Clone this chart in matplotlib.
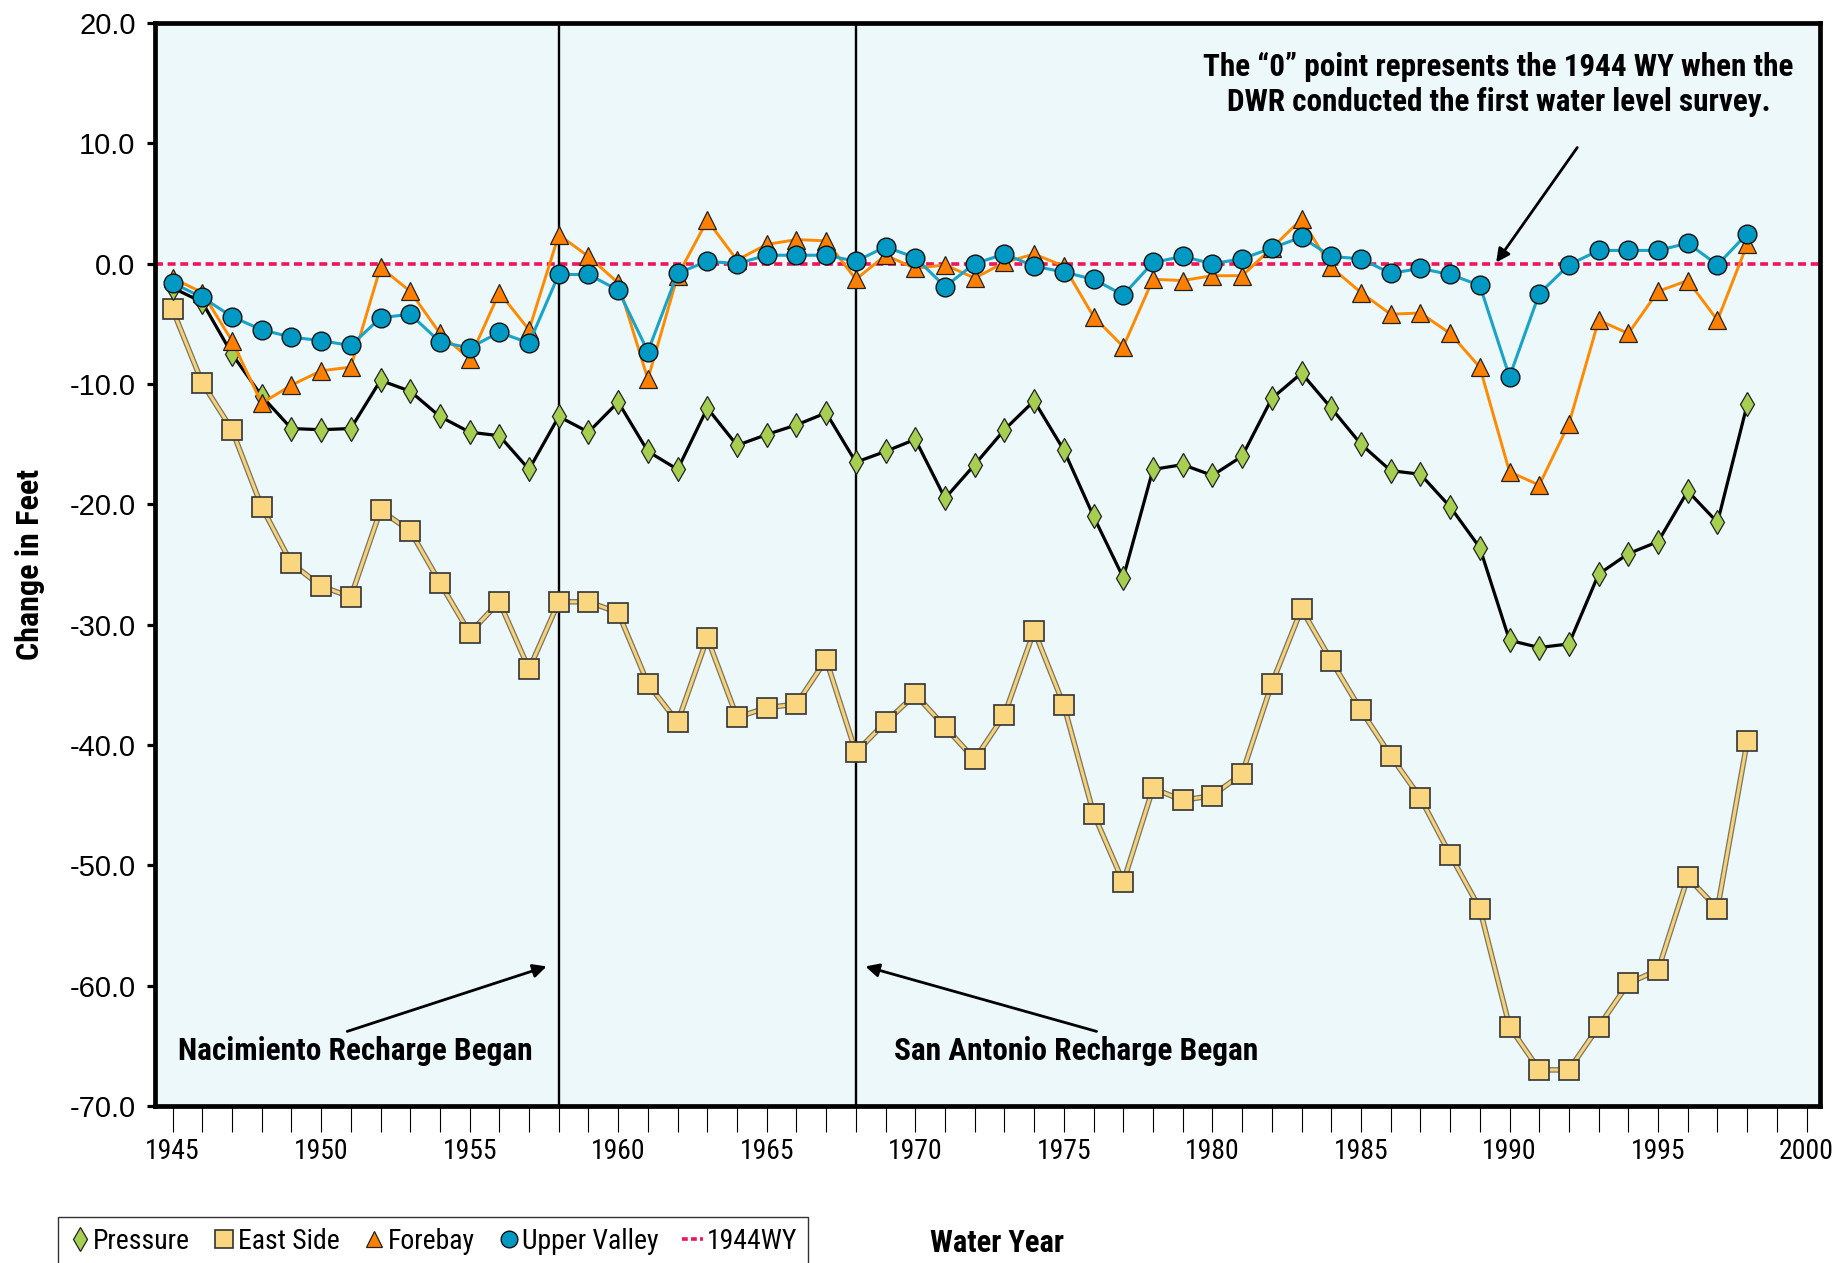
import numpy as np
import matplotlib
matplotlib.use("Agg")
import matplotlib.pyplot as plt
from matplotlib.lines import Line2D
from matplotlib import patheffects as pe

years = list(range(1945, 1999))

pressure = [-2.0, -3.2, -7.5, -11.0, -13.7, -13.8, -13.7, -9.7, -10.6, -12.7,
            -14.0, -14.3, -17.1, -12.7, -14.0, -11.5, -15.6, -17.1, -12.0, -15.1,
            -14.2, -13.4, -12.4, -16.5, -15.6, -14.6, -19.5, -16.7, -13.8, -11.4,
            -15.5, -21.0, -26.1, -17.1, -16.7, -17.6, -16.0, -11.2, -9.1, -12.0,
            -15.0, -17.2, -17.5, -20.2, -23.6, -31.3, -31.9, -31.6, -25.8, -24.1,
            -23.1, -18.9, -21.5, -11.7]

east_side = [-3.8, -9.9, -13.8, -20.2, -24.9, -26.8, -27.7, -20.5, -22.2, -26.5,
             -30.7, -28.1, -33.7, -28.1, -28.1, -29.0, -34.9, -38.1, -31.1, -37.7,
             -36.9, -36.6, -32.9, -40.6, -38.1, -35.8, -38.5, -41.2, -37.5, -30.5,
             -36.7, -45.7, -51.4, -43.6, -44.6, -44.2, -42.4, -34.9, -28.7, -33.0,
             -37.1, -40.9, -44.4, -49.1, -53.6, -63.4, -67.0, -67.0, -63.4, -59.8,
             -58.7, -51.0, -53.6, -39.7]

forebay = [-1.2, -2.4, -6.4, -11.6, -10.1, -8.9, -8.6, -0.3, -2.3, -5.8,
           -7.9, -2.4, -5.5, 2.4, 0.6, -1.6, -9.6, -1.0, 3.6, 0.3,
           1.6, 2.0, 1.9, -1.3, 0.7, -0.4, -0.1, -1.2, 0.1, 0.8,
           -0.2, -4.4, -6.9, -1.3, -1.4, -1.0, -1.0, 1.3, 3.7, -0.3,
           -2.4, -4.2, -4.1, -5.8, -8.6, -17.3, -18.4, -13.3, -4.7, -5.8,
           -2.3, -1.4, -4.7, 1.6]

upper_valley = [-1.6, -2.8, -4.4, -5.5, -6.1, -6.4, -6.8, -4.5, -4.2, -6.5,
                -7.0, -5.7, -6.6, -0.9, -0.9, -2.2, -7.3, -0.8, 0.2, 0.0,
                0.7, 0.7, 0.7, 0.2, 1.4, 0.5, -1.9, 0.0, 0.8, -0.2,
                -0.7, -1.3, -2.6, 0.1, 0.6, 0.0, 0.4, 1.3, 2.2, 0.6,
                0.4, -0.8, -0.4, -0.9, -1.8, -9.4, -2.5, -0.1, 1.1, 1.1,
                1.1, 1.7, -0.1, 2.5]

recharge_years = [1958, 1968]

# condensed face like the original's Arial Narrow, falls back to DejaVu Sans Condensed
NARROW = ["Roboto Condensed", "PT Sans Narrow", "DejaVu Sans"]
REGULAR = ["Liberation Sans", "DejaVu Sans"]
COND = dict(family=NARROW, stretch="condensed")

fig = plt.figure(figsize=(18.39, 12.63), dpi=100)
ax = fig.add_axes([155 / 1839, 1 - 1106 / 1263, (1820 - 155) / 1839, (1106 - 23) / 1263])
ax.set_facecolor("#EDF8FA")

# reference lines
ax.axhline(0, color="#F0145A", lw=2.6, ls=(0, (2.2, 1.3)), zorder=2)
for yr in recharge_years:
    ax.axvline(yr, color="black", lw=1.7, zorder=2.5)

# East Side: tan line with grey outline
ax.plot(years, east_side, color="#F5D27A", lw=2.2, zorder=3,
        path_effects=[pe.withStroke(linewidth=4.0, foreground="#7d745e")])
ax.plot(years, east_side, ls="none", marker="s", ms=15, mfc="#F9D67F",
        mec="#333333", mew=1.2, zorder=3.1)

ax.plot(years, pressure, color="black", lw=2.3, marker="d", ms=12.5,
        mfc="#A6CF52", mec="#222222", mew=0.9, zorder=4)
ax.plot(years, forebay, color="#FF8A00", lw=2.1, marker="^", ms=13.5,
        mfc="#FF7F00", mec="#222222", mew=0.9, zorder=5)
ax.plot(years, upper_valley, color="#1AA3C8", lw=2.2, marker="o", ms=13.5,
        mfc="#0099C4", mec="#111111", mew=1.0, zorder=6)

ax.set_xlim(1944.41, 2000.45)
ax.set_ylim(-70, 20)
ax.set_yticks(np.arange(-70, 21, 10))
ax.set_yticklabels([f"{v:.1f}" for v in np.arange(-70, 21, 10)],
                   family=REGULAR, fontsize=21)
ax.set_xticks(np.arange(1945, 2001, 5))
ax.set_xticks(np.arange(1945, 2001, 1), minor=True)
ax.set_xticklabels([str(v) for v in np.arange(1945, 2001, 5)], fontsize=20, **COND)
ax.tick_params(axis="x", which="both", direction="out", length=19, width=0.8,
               pad=4)
ax.tick_params(axis="y", direction="out", length=6, width=2.3, pad=8)
for s in ax.spines.values():
    s.set_linewidth(3.4)

ax.set_ylabel("Change in Feet", fontsize=23, weight="bold", **COND)
ax.yaxis.set_label_coords(-0.066, 0.5)
fig.text(997 / 1839, 1 - 1243 / 1263, "Water Year", fontsize=22,
         weight="bold", ha="center", va="center", **COND)

# annotations
arrow = dict(arrowstyle="-|>", color="black", lw=2.0, mutation_scale=20,
             shrinkA=0, shrinkB=0)
ax.annotate("", xy=(1957.59, -58.4), xytext=(1950.88, -63.8),
            arrowprops=arrow, zorder=7)
ax.text(1945.2, -65.4, "Nacimiento Recharge Began", fontsize=22.6,
        weight="bold", ha="left", va="center", **COND)
ax.annotate("", xy=(1968.32, -58.4), xytext=(1976.1, -63.8),
            arrowprops=arrow, zorder=7)
ax.text(1969.27, -65.4, "San Antonio Recharge Began", fontsize=22.6,
        weight="bold", ha="left", va="center", **COND)
ax.annotate("", xy=(1989.55, 0.1), xytext=(1992.28, 9.65),
            arrowprops=arrow, zorder=7)
ax.text(1989.63, 14.9,
        "The \u201c0\u201d point represents the 1944 WY when the\n"
        "DWR conducted the first water level survey.",
        fontsize=22.4, weight="bold", ha="center", va="center",
        linespacing=1.2, **COND)

handles = [
    Line2D([], [], ls="none", marker="d", ms=12.5, mfc="#A6CF52", mec="#222222", mew=0.9),
    Line2D([], [], ls="none", marker="s", ms=13, mfc="#F9D67F", mec="#333333", mew=1.2),
    Line2D([], [], ls="none", marker="^", ms=11, mfc="#FF7F00", mec="#222222", mew=0.9),
    Line2D([], [], ls="none", marker="o", ms=12, mfc="#0099C4", mec="#111111", mew=1.0),
    Line2D([], [], color="#F0145A", lw=2.6, ls=(0, (1.6, 0.9))),
]
leg = fig.legend(handles, ["Pressure", "East Side", "Forebay", "Upper Valley", "1944WY"],
                 loc="upper left", bbox_to_anchor=(58 / 1839, 1 - 1217 / 1263),
                 borderaxespad=0, ncol=5, frameon=True, fancybox=False,
                 handlelength=0.75, handletextpad=0.12, columnspacing=0.85,
                 borderpad=0.4, prop={"family": NARROW, "stretch": "condensed", "size": 20})
leg.get_frame().set_edgecolor("black")
leg.get_frame().set_linewidth(1.0)

fig.savefig("out.png", dpi=100)
plt.close(fig)
